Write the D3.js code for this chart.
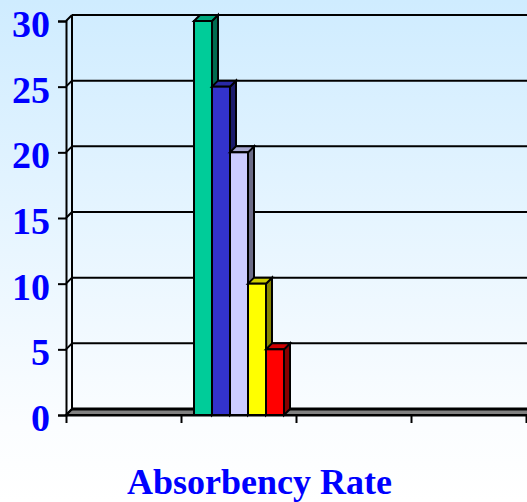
<!DOCTYPE html>
<html><head><meta charset="utf-8">
<script src="https://cdn.jsdelivr.net/npm/d3@7/dist/d3.min.js"></script>
<style>html,body{margin:0;padding:0;background:#fff}svg{display:block}</style>
</head><body><svg id="c" width="527" height="502"></svg>
<script>
const categories = ["a", "b", "c", "d"];
const activeCategory = "b";
const seriesNames = ["s1", "s2", "s3", "s4", "s5"];
const seriesValues = [30, 25, 20, 10, 5];
const seriesColors = ["#00cc99", "#3333cc", "#ccccff", "#ffff00", "#ff0000"];
const sideColors = ["#006b50", "#1b1b6b", "#6b6b86", "#868600", "#860000"];
const topColors = ["#00a67c", "#2a2aa6", "#a6a6cf", "#cfcf00", "#cf0000"];
const yTicks = [0, 5, 10, 15, 20, 25, 30];
const axisTitle = "Absorbency Rate";

const W = 527, H = 502, dx = 6, dy = -6;
const svg = d3.select("#c");
const defs = svg.append("defs");
const g = defs.append("linearGradient").attr("id", "bg").attr("x1", 0).attr("y1", 0).attr("x2", 0).attr("y2", 1);
g.append("stop").attr("offset", 0).attr("stop-color", "#cfecff");
g.append("stop").attr("offset", 0.85).attr("stop-color", "#fbfdff");
g.append("stop").attr("offset", 1).attr("stop-color", "#ffffff");
svg.append("rect").attr("width", W).attr("height", H).attr("fill", "url(#bg)");

const y = d3.scaleLinear().domain([0, 30]).range([415, 21]);
const x = d3.scaleBand().domain(categories).range([66, 526]);
const x1 = d3.scaleBand().domain(seriesNames).range([x(activeCategory) + 13, x(activeCategory) + 103]);
const x0 = x.range()[0];
const x9 = W + 10;
const stroke = "#000";

// floor
svg.append("path")
  .attr("d", `M${x0},${y(0)}L${x0 + dx},${y(0) + dy}L${x9},${y(0) + dy}L${x9},${y(0)}Z`)
  .attr("fill", "#808080").attr("stroke", stroke).attr("stroke-width", 2);

// back wall gridlines
svg.append("g").selectAll("line").data(yTicks).join("line")
  .attr("x1", x0 + dx).attr("x2", x9)
  .attr("y1", d => y(d) + dy).attr("y2", d => y(d) + dy)
  .attr("stroke", stroke).attr("stroke-width", d => d === 0 ? 3 : 2);
// side wall diagonals
svg.append("g").selectAll("line").data(yTicks).join("line")
  .attr("x1", x0).attr("x2", x0 + dx)
  .attr("y1", d => y(d)).attr("y2", d => y(d) + dy)
  .attr("stroke", stroke).attr("stroke-width", 2);
// back wall left edge
svg.append("line").attr("x1", x0 + dx).attr("x2", x0 + dx)
  .attr("y1", y(30) + dy).attr("y2", y(0) + dy)
  .attr("stroke", stroke).attr("stroke-width", 2);

// y axis
const yAxis = d3.axisLeft(y).tickValues(yTicks).tickSize(8).tickPadding(8);
const ya = svg.append("g").attr("transform", `translate(${x0},0)`).call(yAxis);
ya.select(".domain").attr("stroke", stroke).attr("stroke-width", 2);
ya.selectAll(".tick line").attr("stroke", stroke).attr("stroke-width", 2);
ya.selectAll("text")
  .attr("font-family", "'Liberation Serif', serif").attr("font-weight", "bold")
  .attr("font-size", 38).attr("fill", "#0000ff").attr("dy", "0.41em");

// x axis
const xTicks = categories.map(c => x(c)).concat(x.range()[1]);
const xs = d3.scaleIdentity().domain([0, W]);
const xa = svg.append("g").attr("transform", `translate(0,${y(0)})`)
  .call(d3.axisBottom(xs).tickValues(xTicks).tickSize(8).tickFormat(""));
xa.select(".domain").attr("d", `M${x0},0.5H${x9}`).attr("stroke", stroke).attr("stroke-width", 2);
xa.selectAll(".tick line").attr("stroke", stroke).attr("stroke-width", 2);

// bars, drawn left to right so each front face overlaps its left neighbour's side
const idx = d3.range(seriesValues.length);
const bars = svg.append("g").selectAll("g").data(idx).join("g")
  .attr("stroke", stroke).attr("stroke-width", 2).attr("stroke-linejoin", "miter");
bars.append("path").attr("fill", i => sideColors[i]).attr("d", i => {
  const r = x1(seriesNames[i]) + x1.bandwidth(), t = y(seriesValues[i]), b = y(0);
  return `M${r},${t}L${r + dx},${t + dy}L${r + dx},${b + dy}L${r},${b}Z`;
});
bars.append("path").attr("fill", i => topColors[i]).attr("d", i => {
  const l = x1(seriesNames[i]), r = l + x1.bandwidth(), t = y(seriesValues[i]);
  return `M${l},${t}L${l + dx},${t + dy}L${r + dx},${t + dy}L${r},${t}Z`;
});
bars.append("rect").attr("fill", i => seriesColors[i])
  .attr("x", i => x1(seriesNames[i])).attr("width", x1.bandwidth())
  .attr("y", i => y(seriesValues[i])).attr("height", i => y(0) - y(seriesValues[i]));

// title
svg.append("text").attr("x", 259.5).attr("y", 494).attr("text-anchor", "middle")
  .attr("font-family", "'Liberation Serif', serif").attr("font-weight", "bold")
  .attr("font-size", 36).attr("fill", "#0000ff").text(axisTitle);
</script></body></html>
